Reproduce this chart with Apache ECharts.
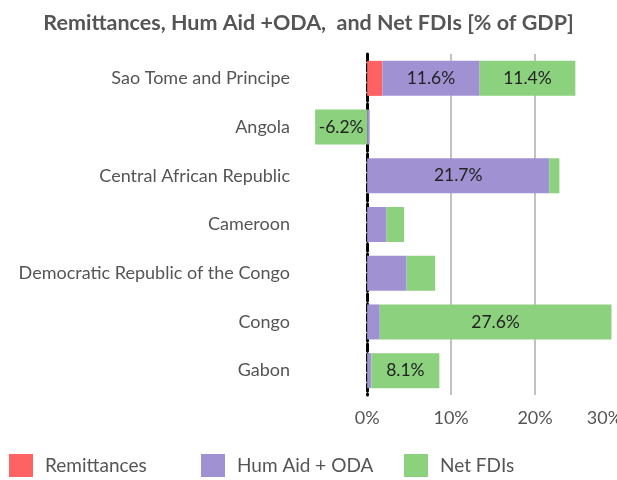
<!DOCTYPE html>
<html>
<head>
<meta charset="utf-8">
<script src="https://cdn.jsdelivr.net/npm/echarts@6/dist/echarts.min.js"></script>
<style>html,body{margin:0;padding:0;background:#fff}#c{width:617px;height:480px}</style>
</head>
<body>
<div id="c"></div>
<script>
const categories = ['Sao Tome and Principe','Angola','Central African Republic','Cameroon','Democratic Republic of the Congo','Congo','Gabon'];
const remittances = [1.8, 0, 0, 0, 0, 0, 0];
const humAidOda = [11.6, 0.3, 21.7, 2.3, 4.7, 1.5, 0.5];
const netFdis = [11.4, -6.2, 1.2, 2.1, 3.4, 27.6, 8.1];
const xTicks = [0, 10, 20, 30];
const gridTicks = [10, 20, 30];

const FONT = 'Lato';
const chart = echarts.init(document.getElementById('c'), null, {renderer:'canvas'});
const labelCfg = {
  show: true, position: 'inside', fontFamily: FONT, fontSize: 17.5, color: '#222',
  formatter: p => Math.abs(p.value) >= 5 ? p.value.toFixed(1) + '%' : ''
};
const legendBase = (name, left) => ({
  data: [name], left: left, top: 454, padding: 0, itemWidth: 24, itemHeight: 23, icon: 'rect',
  textStyle: {fontFamily: FONT, fontSize: 19, color: '#555', padding: [0,0,0,7]}
});
const tickFont = {fontFamily: FONT, fontSize: 18, color: '#555'};
chart.setOption({
  animation: false,
  title: {
    text: 'Remittances, Hum Aid +ODA,  and Net FDIs [% of GDP]', left: 'center', top: 7,
    textStyle: {fontFamily: FONT, fontSize: 21.5, fontWeight: 'bold', color: '#555'}
  },
  legend: [legendBase('Remittances', 9), legendBase('Hum Aid + ODA', 201), legendBase('Net FDIs', 404)],
  grid: {left: 300, top: 54, width: 319, height: 341, containLabel: false, outerBoundsMode: 'none'},
  xAxis: {
    type: 'value', min: -8, max: 30,
    axisLine: {show: false},
    axisTick: {show: false, customValues: gridTicks},
    splitLine: {show: true, lineStyle: {color: '#c2c2c2', width: 2}},
    axisLabel: {
      customValues: xTicks, margin: 14, ...tickFont,
      formatter: v => v === xTicks[xTicks.length - 1] ? '{last|' + v + '%}' : v + '%',
      rich: {last: {...tickFont, padding: [0, 29, 0, 0]}}
    }
  },
  yAxis: {
    type: 'category', data: categories, inverse: true,
    axisLine: {show: true, onZero: true, lineStyle: {color: '#000', width: 3, type: [7, 3]}},
    axisTick: {show: false},
    axisLabel: {fontFamily: FONT, fontSize: 18, color: '#555', margin: 10}
  },
  series: [
    {name: 'Remittances', type: 'bar', stack: 's', data: remittances, barWidth: 35, itemStyle: {color: '#ff6262'}, label: labelCfg},
    {name: 'Hum Aid + ODA', type: 'bar', stack: 's', data: humAidOda, barWidth: 35, itemStyle: {color: '#a092d2'}, label: labelCfg},
    {name: 'Net FDIs', type: 'bar', stack: 's', data: netFdis, barWidth: 35, itemStyle: {color: '#8cd17d'}, label: labelCfg}
  ]
});
</script>
</body>
</html>
